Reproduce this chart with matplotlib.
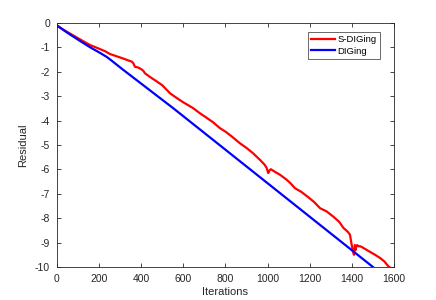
import matplotlib
matplotlib.use("Agg")
import matplotlib.pyplot as plt

plt.rcParams['font.family'] = ['Liberation Sans', 'DejaVu Sans']

sdiging_x = [0, 40, 80, 120, 157, 200, 230, 252, 290, 320, 345, 355, 362, 370, 385,
             402, 410, 418, 440, 470, 500, 537, 570, 600, 647, 679, 710, 740, 774,
             800, 830, 869, 900, 930, 964, 985, 995, 1003, 1008, 1015, 1035, 1059,
             1090, 1110, 1130, 1160, 1190, 1220, 1249, 1280, 1311, 1340, 1360, 1380,
             1391, 1399, 1405, 1410, 1414, 1418, 1421, 1425, 1431, 1440, 1455, 1480,
             1510, 1534, 1555, 1573, 1585]
sdiging_y = [-0.1, -0.32, -0.52, -0.72, -0.9, -1.05, -1.16, -1.27, -1.38, -1.47,
             -1.55, -1.58, -1.64, -1.79, -1.82, -1.9, -1.96, -2.06, -2.2, -2.37,
             -2.55, -2.88, -3.08, -3.25, -3.49, -3.7, -3.88, -4.06, -4.31, -4.45,
             -4.65, -4.93, -5.12, -5.33, -5.61, -5.8, -5.93, -6.15, -6.05, -5.99,
             -6.1, -6.22, -6.42, -6.58, -6.77, -6.92, -7.12, -7.33, -7.59, -7.72,
             -7.93, -8.15, -8.4, -8.55, -8.68, -9.09, -9.36, -9.5, -9.1, -9.3,
             -9.15, -9.1, -9.15, -9.15, -9.22, -9.35, -9.5, -9.63, -9.78, -9.97,
             -10.05]

diging_x = [0, 50, 100, 157, 200, 235, 252, 315, 552, 1500]
diging_y = [-0.1, -0.4, -0.68, -0.99, -1.2, -1.38, -1.49, -1.92, -3.49, -10.0]

xticks = [0, 200, 400, 600, 800, 1000, 1200, 1400, 1600]
yticks = [0, -1, -2, -3, -4, -5, -6, -7, -8, -9, -10]

fig = plt.figure(figsize=(4.36, 3.0), dpi=100)
ax = fig.add_axes([0.1307, 0.11, 0.773, 0.813])

ax.plot(sdiging_x, sdiging_y, color='#ff0000', lw=1.6, label='S-DIGing')
ax.plot(diging_x, diging_y, color='#0000ff', lw=1.6, label='DIGing')

ax.set_xlim(0, 1600)
ax.set_ylim(-10, 0)
ax.set_xticks(xticks)
ax.set_yticks(yticks)
ax.set_yticklabels([str(t) for t in yticks])
ax.tick_params(direction='in', length=3, width=0.6, colors='#262626',
               labelsize=7.5, top=True, right=True, pad=5)
for s in ax.spines.values():
    s.set_color('#262626')
    s.set_linewidth(0.6)
ax.set_xlabel('Iterations', fontsize=8, color='#262626', labelpad=2)
ax.set_ylabel('Residual', fontsize=8, color='#262626', labelpad=5)

leg = ax.legend(loc='upper right', fontsize=6.8, handlelength=2.5,
                frameon=True, fancybox=False, borderpad=0.35, labelspacing=0.25,
                handletextpad=0.3, borderaxespad=0.0,
                bbox_to_anchor=(0.958, 0.963))
leg.get_frame().set_edgecolor('#262626')
leg.get_frame().set_linewidth(0.6)

fig.savefig('out.png', dpi=100)
